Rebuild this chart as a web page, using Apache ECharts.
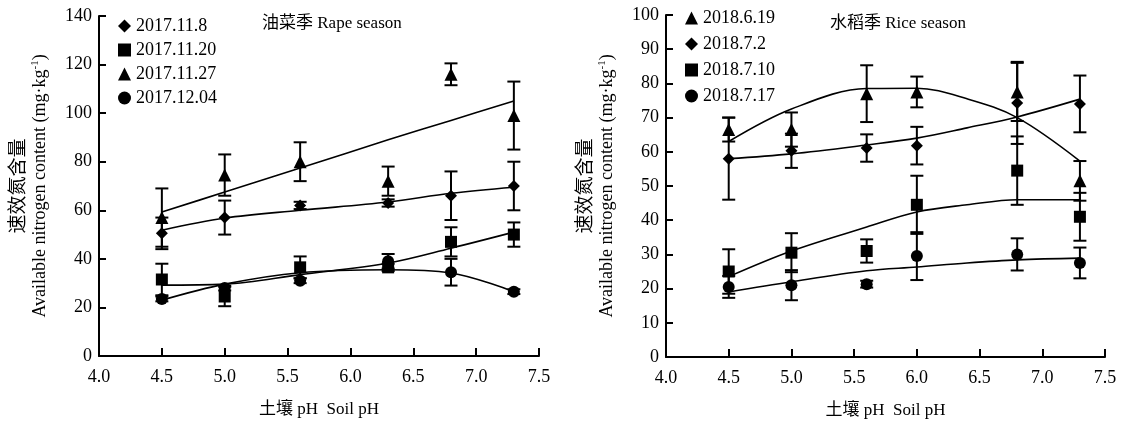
<!DOCTYPE html>
<html><head><meta charset="utf-8">
<script src="https://cdn.jsdelivr.net/npm/echarts@6/dist/echarts.min.js"></script>
<style>html,body{margin:0;padding:0;background:#fff}#c{width:1122px;height:425px}</style>
</head><body><div id="c"></div>
<script>
// ---------- Rape season (left) ----------
const rapePH = [4.5, 5.0, 5.6, 6.3, 6.8, 7.3];
const rapeNames = ['2017.11.8', '2017.11.20', '2017.11.27', '2017.12.04'];
const rapeVals = {
  '2017.11.8':  [50.5, 57, 62, 63, 66, 70],
  '2017.11.20': [31.5, 24.5, 36.5, 36.5, 47, 50],
  '2017.11.27': [57, 74.5, 80, 72, 116, 99],
  '2017.12.04': [23.5, 28, 31, 39, 34.5, 26.5]
};
const rapeErr = {
  '2017.11.8':  [6.5, 7, 1.5, 1.5, 10, 10],
  '2017.11.20': [6.5, 4, 4.5, 1.5, 6, 5],
  '2017.11.27': [12, 8.5, 8, 6, 4.5, 14],
  '2017.12.04': [1, 1, 1, 3, 5.5, 1]
};
const rapeFitPH = [4.5, 5.0, 5.6, 6.3, 6.8, 7.3];
const rapeFit = {
  '2017.11.8':  [51.8, 56.8, 60, 63.4, 67, 69.5],
  '2017.11.20': [29.2, 29.6, 33.5, 38.3, 44.4, 51],
  '2017.11.27': [59.3, 67.5, 77.4, 89, 97, 105],
  '2017.12.04': [23, 29.6, 34.3, 35.5, 34.2, 26.5]
};
// ---------- Rice season (right) ----------
const ricePH = [4.5, 5.0, 5.6, 6.0, 6.8, 7.3];
const riceNames = ['2018.6.19', '2018.7.2', '2018.7.10', '2018.7.17'];
const riceVals = {
  '2018.6.19': [66.5, 66.5, 77, 77.5, 77.5, 51.5],
  '2018.7.2':  [58, 60.3, 61.1, 61.8, 74.3, 74],
  '2018.7.10': [25, 30.5, 31, 44.5, 54.5, 41],
  '2018.7.17': [20.5, 21, 21.3, 29.5, 30, 27.5]
};
const riceErr = {
  '2018.6.19': [3.5, 5, 8.3, 4.5, 8.5, 5.8],
  '2018.7.2':  [12, 5, 4, 5.5, 12, 8.3],
  '2018.7.10': [6.5, 5.7, 3.4, 8.5, 10, 7],
  '2018.7.17': [3.2, 4.4, 1, 7, 4.7, 4.5]
};
const riceFitPH = [4.5, 5.0, 5.6, 6.0, 6.4, 6.8, 7.3];
const riceFit = {
  '2018.6.19': [63, 72.5, 78.5, 78.6, 75.5, 70, 57.3],
  '2018.7.2':  [58, 59.4, 62, 64, 67, 70.2, 75.4],
  '2018.7.10': [23.5, 31, 38, 42.4, 44.5, 46, 46],
  '2018.7.17': [19, 22, 25.2, 26.3, 27.5, 28.4, 28.9]
};
const symbolOf = {
  '2017.11.8': ['diamond', 12], '2017.11.20': ['rect', 12], '2017.11.27': ['triangle', 13], '2017.12.04': ['circle', 12],
  '2018.6.19': ['triangle', 13], '2018.7.2': ['diamond', 12], '2018.7.10': ['rect', 12], '2018.7.17': ['circle', 12]
};

const SERIF = "'Liberation Serif','Noto Sans CJK SC',serif";

function errRender(params, api) {
  const x = api.value(0), lo = api.value(1), hi = api.value(2);
  const p1 = api.coord([x, lo]), p2 = api.coord([x, hi]);
  const w = 6.5, st = {stroke: '#000', lineWidth: 2};
  return {type: 'group', children: [
    {type: 'line', shape: {x1: p1[0], y1: p1[1], x2: p2[0], y2: p2[1]}, style: st},
    {type: 'line', shape: {x1: p1[0] - w, y1: p1[1], x2: p1[0] + w, y2: p1[1]}, style: st},
    {type: 'line', shape: {x1: p2[0] - w, y1: p2[1], x2: p2[0] + w, y2: p2[1]}, style: st}
  ]};
}

function buildSeries(names, ph, vals, errs, fitPH, fits, idx) {
  const out = [];
  names.forEach(n => {
    out.push({
      type: 'line', name: n + ' fit', xAxisIndex: idx, yAxisIndex: idx, showSymbol: false, smooth: 0.35,
      lineStyle: {color: '#000', width: 1.6}, silent: true, z: 2,
      data: fitPH.map((x, i) => [x, fits[n][i]])
    });
    out.push({
      type: 'custom', name: n + ' err', xAxisIndex: idx, yAxisIndex: idx, renderItem: errRender, z: 3,
      encode: {x: 0, y: [1, 2]},
      data: ph.map((x, i) => [x, vals[n][i] - errs[n][i], vals[n][i] + errs[n][i]])
    });
    out.push({
      type: 'scatter', name: n, xAxisIndex: idx, yAxisIndex: idx, z: 4,
      symbol: symbolOf[n][0], symbolSize: symbolOf[n][1], itemStyle: {color: '#000', opacity: 1},
      data: ph.map((x, i) => [x, vals[n][i]])
    });
  });
  return out;
}

function xAxis(idx) {
  return {
    type: 'value', gridIndex: idx, min: 4, max: 7.5, interval: 0.5,
    name: '土壤 pH  Soil pH', nameLocation: 'middle', nameGap: 45,
    nameTextStyle: {color: '#000', fontSize: 17, fontFamily: SERIF},
    axisLine: {onZero: false, lineStyle: {color: '#000', width: 2}},
    axisTick: {inside: true, length: 8, lineStyle: {color: '#000', width: 2}},
    axisLabel: {color: '#000', fontSize: 18, fontFamily: SERIF, margin: 12, formatter: v => v.toFixed(1)},
    splitLine: {show: false}
  };
}
function yAxis(idx, max, interval) {
  return {
    type: 'value', gridIndex: idx, min: 0, max: max, interval: interval,
    name: '{cn|速效氮含量}\n{en|Available nitrogen content (mg·kg}{sup|-1}{en|)}',
    nameLocation: 'middle', nameGap: 48, nameRotate: 90,
    nameTextStyle: {color: '#000', align: 'center', rich: {
      cn: {fontSize: 19, fontFamily: SERIF, lineHeight: 21, color: '#000'},
      en: {fontSize: 18, fontFamily: SERIF, lineHeight: 21, color: '#000'},
      sup: {fontSize: 11, fontFamily: SERIF, lineHeight: 21, verticalAlign: 'top', color: '#000'}
    }},
    axisLine: {show: true, lineStyle: {color: '#000', width: 2}},
    axisTick: {show: true, inside: true, length: 7, lineStyle: {color: '#000', width: 2}},
    axisLabel: {color: '#000', fontSize: 18, fontFamily: SERIF, margin: 7},
    splitLine: {show: false}
  };
}

const chart = echarts.init(document.getElementById('c'));
chart.setOption({
  backgroundColor: '#fff',
  animation: false,
  grid: [
    {left: 99, right: 583, top: 16, bottom: 69},
    {left: 666, right: 17, top: 15, bottom: 68}
  ],
  xAxis: [xAxis(0), xAxis(1)],
  yAxis: [yAxis(0, 140, 20), yAxis(1, 100, 10)],
  legend: [
    {data: rapeNames, orient: 'vertical', left: 118, top: 17, padding: 0, itemGap: 6, itemWidth: 13, itemHeight: 13,
     textStyle: {fontSize: 18, fontFamily: SERIF, color: '#000'}},
    {data: riceNames, orient: 'vertical', left: 685, top: 9, padding: 0, itemGap: 8, itemWidth: 13, itemHeight: 13,
     textStyle: {fontSize: 18, fontFamily: SERIF, color: '#000'}}
  ],
  graphic: [
    {type: 'text', left: 262, top: 15, style: {text: '油菜季 Rape season', font: "17px 'Liberation Serif','Noto Sans CJK SC',serif", fill: '#000'}},
    {type: 'text', left: 830, top: 15, style: {text: '水稻季 Rice season', font: "17px 'Liberation Serif','Noto Sans CJK SC',serif", fill: '#000'}}
  ],
  series: [].concat(
    buildSeries(rapeNames, rapePH, rapeVals, rapeErr, rapeFitPH, rapeFit, 0),
    buildSeries(riceNames, ricePH, riceVals, riceErr, riceFitPH, riceFit, 1)
  )
});
</script>
</body></html>
